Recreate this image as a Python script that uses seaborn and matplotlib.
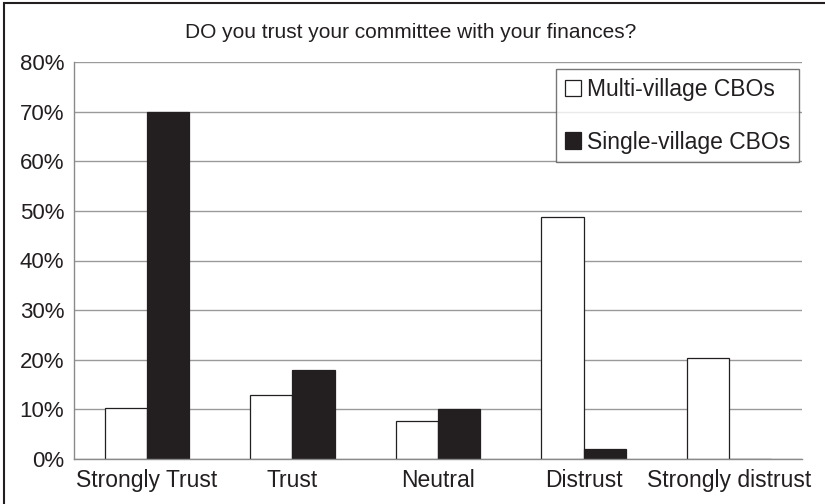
import matplotlib
matplotlib.use("Agg")
import matplotlib.pyplot as plt
import pandas as pd
import seaborn as sns
from matplotlib.patches import Rectangle
from matplotlib.ticker import PercentFormatter

categories = ["Strongly Trust", "Trust", "Neutral", "Distrust", "Strongly distrust"]
series = ["Multi-village CBOs", "Single-village CBOs"]
multi_village = [10.2, 12.8, 7.7, 48.7, 20.4]
single_village = [70.0, 18.0, 10.0, 2.0, 0.0]
y_ticks = [0, 10, 20, 30, 40, 50, 60, 70, 80]
title = "DO you trust your committee with your finances?"

df = pd.DataFrame({
    "answer": categories * 2,
    "group": [series[0]] * len(categories) + [series[1]] * len(categories),
    "pct": multi_village + single_village,
})

sns.set_theme(style="white")
plt.rcParams["font.family"] = ["Liberation Sans", "DejaVu Sans"]

fig = plt.figure(figsize=(8.25, 5.04), dpi=100)
ax = fig.add_axes([74 / 825, 1 - 459 / 504, (802 - 74) / 825, (459 - 62) / 504])

sns.barplot(data=df, x="answer", y="pct", hue="group", order=categories,
            hue_order=series, palette=["white", "#231f20"], width=0.58,
            edgecolor="#231f20", linewidth=0.9, saturation=1, ax=ax)

ax.set_ylim(0, 80)
ax.set_yticks(y_ticks)
ax.yaxis.set_major_formatter(PercentFormatter(decimals=0))
ax.set_xlim(-0.5, len(categories) - 0.5)
ax.grid(axis="y", color="#9a9a9a", linewidth=1)
ax.set_axisbelow(True)
for side in ["top", "right"]:
    ax.spines[side].set_visible(False)
for side in ["left", "bottom"]:
    ax.spines[side].set_color("#8a8a8a")
    ax.spines[side].set_linewidth(1)
ax.set_xlabel("")
ax.set_ylabel("")
ax.tick_params(axis="y", labelsize=16, colors="#231f20", length=0, pad=7)
ax.tick_params(axis="x", labelsize=16.5, colors="#231f20", length=0, pad=7)

leg = ax.legend(loc="upper right", bbox_to_anchor=(799 / 825, 1 - 69 / 504),
                bbox_transform=fig.transFigure, fontsize=16.5, frameon=True,
                fancybox=False, handlelength=0.72, handleheight=0.72,
                handletextpad=0.25, labelspacing=1.3, borderpad=0.38,
                borderaxespad=0)
leg.get_frame().set_edgecolor("#555555")
leg.get_frame().set_linewidth(1)
for t in leg.get_texts():
    t.set_color("#231f20")

fig.text(411 / 825, 1 - 32 / 504, title, ha="center", va="center",
         fontsize=15, color="#231f20")

# outer frame, cut off at the right and bottom edges
fig.patches.append(Rectangle((4 / 825, -0.05), 1.1, 1 - 3 / 504 + 0.05,
                             transform=fig.transFigure, fill=False,
                             edgecolor="#231f20", linewidth=1.5))

fig.savefig("out.png", dpi=100)
